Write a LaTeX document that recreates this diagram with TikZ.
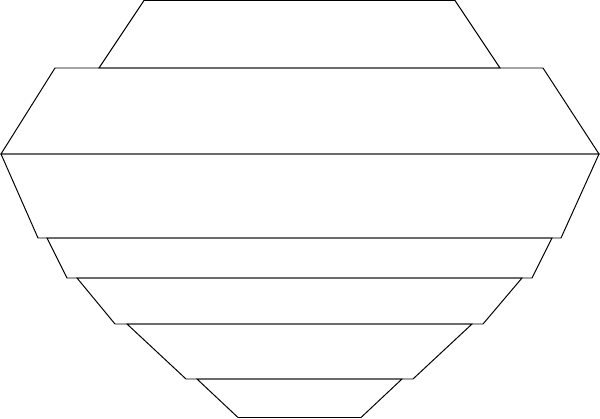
\documentclass[tikz,border=0pt]{standalone}
\usepackage{pgf, tikz}

\begin{document}
\begin{tikzpicture} [x=0.025cm, y=-0.025cm, line width=0.7pt, line join=miter]
\useasboundingbox (0,0) rectangle (600,419);

% top
\draw (144,0.5) -- (455,0.5) -- (500,68) -- (99,68) -- cycle;
% wide bands
\draw (55,68) -- (543,68) -- (599,154) -- (1,154) -- cycle;
\draw (1,154) -- (599,154) -- (561,238) -- (38,238) -- cycle;
% lower bands
\draw (47,238) -- (552,238) -- (532,278) -- (67,278) -- cycle;
\draw (77,278) -- (522,278) -- (483,324) -- (115,324) -- cycle;
\draw (127,324) -- (472,324) -- (413,379) -- (186,379) -- cycle;
\draw (197,379) -- (402,379) -- (361,417.5) -- (238,417.5) -- cycle;
\end{tikzpicture}
\end{document}
